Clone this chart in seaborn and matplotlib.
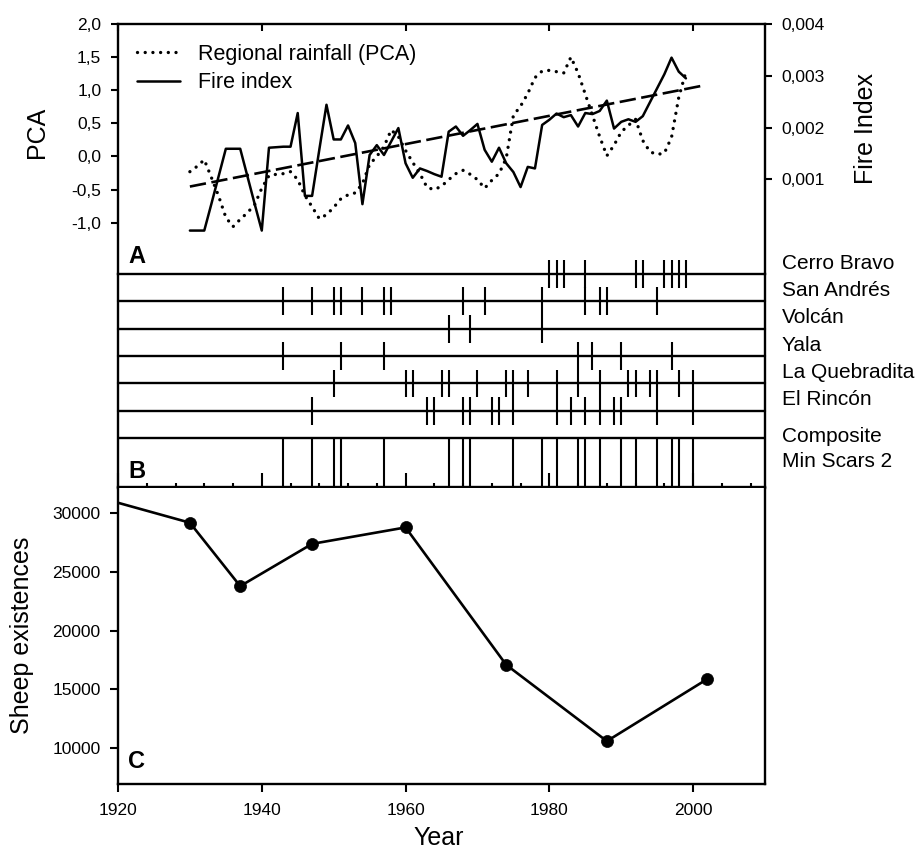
import matplotlib
matplotlib.use("Agg")
import matplotlib.pyplot as plt
import matplotlib.ticker as mticker
import numpy as np
import pandas as pd
import seaborn as sns

# ------------------------------------------------------------------
# Panel A: regional rainfall (PCA, left axis) and fire index (right axis)
# ------------------------------------------------------------------
years_a = list(range(1930, 2000))
rain_pca = [
    -0.23, -0.15, -0.05, -0.32, -0.60, -0.92, -1.06, -0.95, -0.85, -0.73,
    -0.48, -0.29, -0.27, -0.26, -0.23, -0.35, -0.59, -0.76, -0.94, -0.88,
    -0.77, -0.64, -0.58, -0.55, -0.41, -0.12, 0.00, 0.15, 0.40, 0.30,
    0.09, -0.09, -0.26, -0.47, -0.50, -0.45, -0.35, -0.26, -0.21, -0.27,
    -0.35, -0.48, -0.36, -0.26, -0.03, 0.62, 0.76, 0.95, 1.19, 1.29,
    1.30, 1.28, 1.26, 1.50, 1.26, 0.94, 0.62, 0.30, 0.01, 0.17,
    0.37, 0.47, 0.56, 0.24, 0.07, 0.03, 0.05, 0.29, 0.89, 1.28,
]
fire_index = [
    0.00001, 0.00001, 0.00001, 0.00053, 0.00106, 0.00159, 0.00159, 0.00159, 0.00106, 0.00053,
    0.00001, 0.00161, 0.00162, 0.00163, 0.00163, 0.00228, 0.00068, 0.00068, 0.00157, 0.00244,
    0.00177, 0.00177, 0.00204, 0.00170, 0.00052, 0.00147, 0.00166, 0.00147, 0.00173, 0.00199,
    0.00131, 0.00103, 0.00121, 0.00116, 0.00110, 0.00105, 0.00192, 0.00202, 0.00184, 0.00195,
    0.00207, 0.00157, 0.00134, 0.00161, 0.00131, 0.00114, 0.00085, 0.00124, 0.00121, 0.00205,
    0.00215, 0.00227, 0.00220, 0.00224, 0.00202, 0.00228, 0.00226, 0.00232, 0.00252, 0.00198,
    0.00211, 0.00216, 0.00211, 0.00222, 0.00249, 0.00276, 0.00303, 0.00335, 0.00308, 0.00295,
]
trend_years = [1930, 2001]
trend_fire = [0.00086, 0.00280]

# ------------------------------------------------------------------
# Panel B: fire scar years per site (composite = years scarred at >= 2 sites)
# ------------------------------------------------------------------
sites = ["Cerro Bravo", "San Andrés", "Volcán", "Yala", "La Quebradita", "El Rincón"]
scars_cerro_bravo = [1980, 1981, 1982, 1985, 1992, 1993, 1996, 1997, 1998, 1999]
scars_san_andres = [1943, 1947, 1950, 1951, 1954, 1957, 1958, 1968, 1971, 1979,
                    1985, 1987, 1988, 1995]
scars_volcan = [1966, 1969, 1979]
scars_yala = [1943, 1951, 1957, 1984, 1986, 1990, 1997]
scars_la_quebradita = [1950, 1960, 1961, 1965, 1966, 1970, 1974, 1975, 1977, 1981,
                       1984, 1987, 1991, 1992, 1994, 1995, 1998, 2000]
scars_el_rincon = [1947, 1963, 1964, 1968, 1969, 1972, 1973, 1975, 1981, 1983,
                   1985, 1987, 1989, 1990, 1995, 2000]
min_scars = 2

# ------------------------------------------------------------------
# Panel C: sheep existences
# ------------------------------------------------------------------
sheep_years = [1920, 1930, 1937, 1947, 1960, 1974, 1988, 2002]
sheep = [30900, 29200, 23800, 27400, 28800, 17100, 10600, 15900]

# ------------------------------------------------------------------
INK = "black"
W, H = 921, 850
X0, X1 = 118, 765


def box(top, bottom):
    return [X0 / W, 1 - bottom / H, (X1 - X0) / W, (bottom - top) / H]


sns.set_theme(style="ticks")
plt.rcParams["font.family"] = ["Liberation Sans", "DejaVu Sans"]
plt.rcParams.update({
    "axes.unicode_minus": False,
    "axes.linewidth": 1.7,
    "axes.edgecolor": INK,
    "axes.labelcolor": INK,
    "text.color": INK,
    "xtick.color": INK,
    "ytick.color": INK,
    "xtick.major.width": 1.5,
    "ytick.major.width": 1.5,
    "xtick.minor.width": 1.5,
    "xtick.labelsize": 12.5,
    "ytick.labelsize": 12.5,
})

fig = plt.figure(figsize=(9.21, 8.5), dpi=100)
ax_a = fig.add_axes(box(24, 274))
ax_b = fig.add_axes(box(274, 487.5))
ax_c = fig.add_axes(box(487.5, 784))

comma1 = mticker.FuncFormatter(lambda v, p: f"{v:.1f}".replace(".", ","))
comma3 = mticker.FuncFormatter(lambda v, p: f"{v:.3f}".replace(".", ","))

# ---------------- panel A ----------------
df_a = pd.DataFrame({"year": years_a, "pca": rain_pca, "fire": fire_index})
sns.lineplot(data=df_a, x="year", y="pca", ax=ax_a, color=INK, linewidth=2.4,
             linestyle=(0, (0.01, 2.3)), dash_capstyle="round", errorbar=None)
ax_f = ax_a.twinx()
sns.lineplot(data=df_a, x="year", y="fire", ax=ax_f, color=INK, linewidth=1.8,
             errorbar=None)
sns.lineplot(x=trend_years, y=trend_fire, ax=ax_f, color=INK, linewidth=1.9,
             linestyle=(0, (6.2, 2.1)), errorbar=None)

ax_a.set_xlim(1920, 2010)
ax_a.set_ylim(-1.775, 2.0)
ax_f.set_ylim(-0.000829, 0.004)
ax_a.set_yticks([-1.0, -0.5, 0.0, 0.5, 1.0, 1.5, 2.0])
ax_a.yaxis.set_major_formatter(comma1)
ax_f.set_yticks([0.001, 0.002, 0.003, 0.004])
ax_f.yaxis.set_major_formatter(comma3)
ax_a.set_xticks([1920, 1940, 1960, 1980, 2000])
ax_a.tick_params(axis="x", bottom=False, top=True, direction="in", length=5,
                 labelbottom=False)
ax_a.tick_params(axis="y", direction="out", length=5, pad=7)
ax_f.tick_params(axis="y", direction="out", length=5, pad=7)
ax_a.spines["bottom"].set_visible(False)
ax_a.spines["right"].set_visible(False)
for s in ["left", "top", "bottom"]:
    ax_f.spines[s].set_visible(False)

ax_a.set_xlabel("")
ax_a.set_ylabel("PCA", fontsize=18)
ax_a.yaxis.set_label_coords(-0.106, 0.568)
ax_f.set_ylabel("Fire Index", fontsize=18)
ax_f.yaxis.set_label_coords(1.138, 0.584)

ax_f.legend([ax_a.lines[0], ax_f.lines[0]],
            ["Regional rainfall (PCA)", "Fire index"],
            loc="upper left", bbox_to_anchor=((136.7 - X0) / (X1 - X0), 0.921),
            frameon=False, fontsize=15.5, borderpad=0, borderaxespad=0,
            handlelength=2.0, handletextpad=0.85, labelspacing=0.34)
ax_a.text((128.3 - X0) / (X1 - X0), (274 - 263.3) / 250, "A",
          transform=ax_a.transAxes, fontsize=17, fontweight="bold",
          ha="left", va="baseline")

# ---------------- panel B ----------------
site_scars = [scars_cerro_bravo, scars_san_andres, scars_volcan, scars_yala,
              scars_la_quebradita, scars_el_rincon]
counts = pd.Series([y for yrs in site_scars for y in yrs]).value_counts()
composite = sorted(counts[counts >= min_scars].index)

ROWS_BOTTOM = 7.8
ax_b.set_xlim(1920, 2010)
ax_b.set_ylim(ROWS_BOTTOM, 0)
lab_tr = ax_b.get_yaxis_transform()
lab_x = (781.7 - X0) / (X1 - X0)
for i, (site, yrs) in enumerate(zip(sites, site_scars)):
    ax_b.axhline(i, color=INK, linewidth=1.7, clip_on=False)
    ax_b.vlines(yrs, i - 0.51, i + 0.51, color=INK, linewidth=1.5, clip_on=False)
    ax_b.text(lab_x, i - 0.2, site, transform=lab_tr, fontsize=15,
              ha="left", va="baseline", clip_on=False)
ax_b.axhline(6, color=INK, linewidth=1.7)
ax_b.vlines(composite, 6, ROWS_BOTTOM, color=INK, linewidth=1.5)
ax_b.text(lab_x, 6.14, "Composite", transform=lab_tr, fontsize=15,
          ha="left", va="baseline", clip_on=False)
ax_b.text(lab_x, 7.06, "Min Scars 2", transform=lab_tr, fontsize=15,
          ha="left", va="baseline", clip_on=False)

ax_b.spines["top"].set_visible(False)
ax_b.set_yticks([])
ax_b.xaxis.set_major_locator(mticker.FixedLocator([1920, 1940, 1960, 1980, 2000]))
ax_b.xaxis.set_minor_locator(mticker.MultipleLocator(4))
ax_b.tick_params(axis="x", which="major", direction="in", length=10,
                 labelbottom=False)
ax_b.tick_params(axis="x", which="minor", direction="in", length=3)
ax_b.text((128.3 - X0) / (X1 - X0), (487.5 - 478.3) / 213.5, "B",
          transform=ax_b.transAxes, fontsize=17, fontweight="bold",
          ha="left", va="baseline")

# ---------------- panel C ----------------
sns.lineplot(x=sheep_years, y=sheep, ax=ax_c, color=INK, linewidth=1.9,
             errorbar=None)
sns.scatterplot(x=sheep_years[1:], y=sheep[1:], ax=ax_c, color=INK, s=75,
                edgecolor=INK, linewidth=0.5, zorder=3)
ax_c.set_xlim(1920, 2010)
ax_c.set_ylim(6950, 32200)
ax_c.set_xticks([1920, 1940, 1960, 1980, 2000])
ax_c.set_yticks([10000, 15000, 20000, 25000, 30000])
ax_c.tick_params(axis="x", direction="out", length=5.5, pad=8)
ax_c.tick_params(axis="y", direction="out", length=5.5, pad=7)
ax_c.spines["top"].set_visible(False)
ax_c.set_xlabel("Year", fontsize=18)
ax_c.xaxis.set_label_coords(0.495, -0.14)
ax_c.set_ylabel("Sheep existences", fontsize=18)
ax_c.yaxis.set_label_coords(-0.13, 0.5)
ax_c.text((128.3 - X0) / (X1 - X0), (784 - 768.3) / 296.5, "C",
          transform=ax_c.transAxes, fontsize=17, fontweight="bold",
          ha="left", va="baseline")

fig.savefig("out.png", dpi=100)
plt.close(fig)
